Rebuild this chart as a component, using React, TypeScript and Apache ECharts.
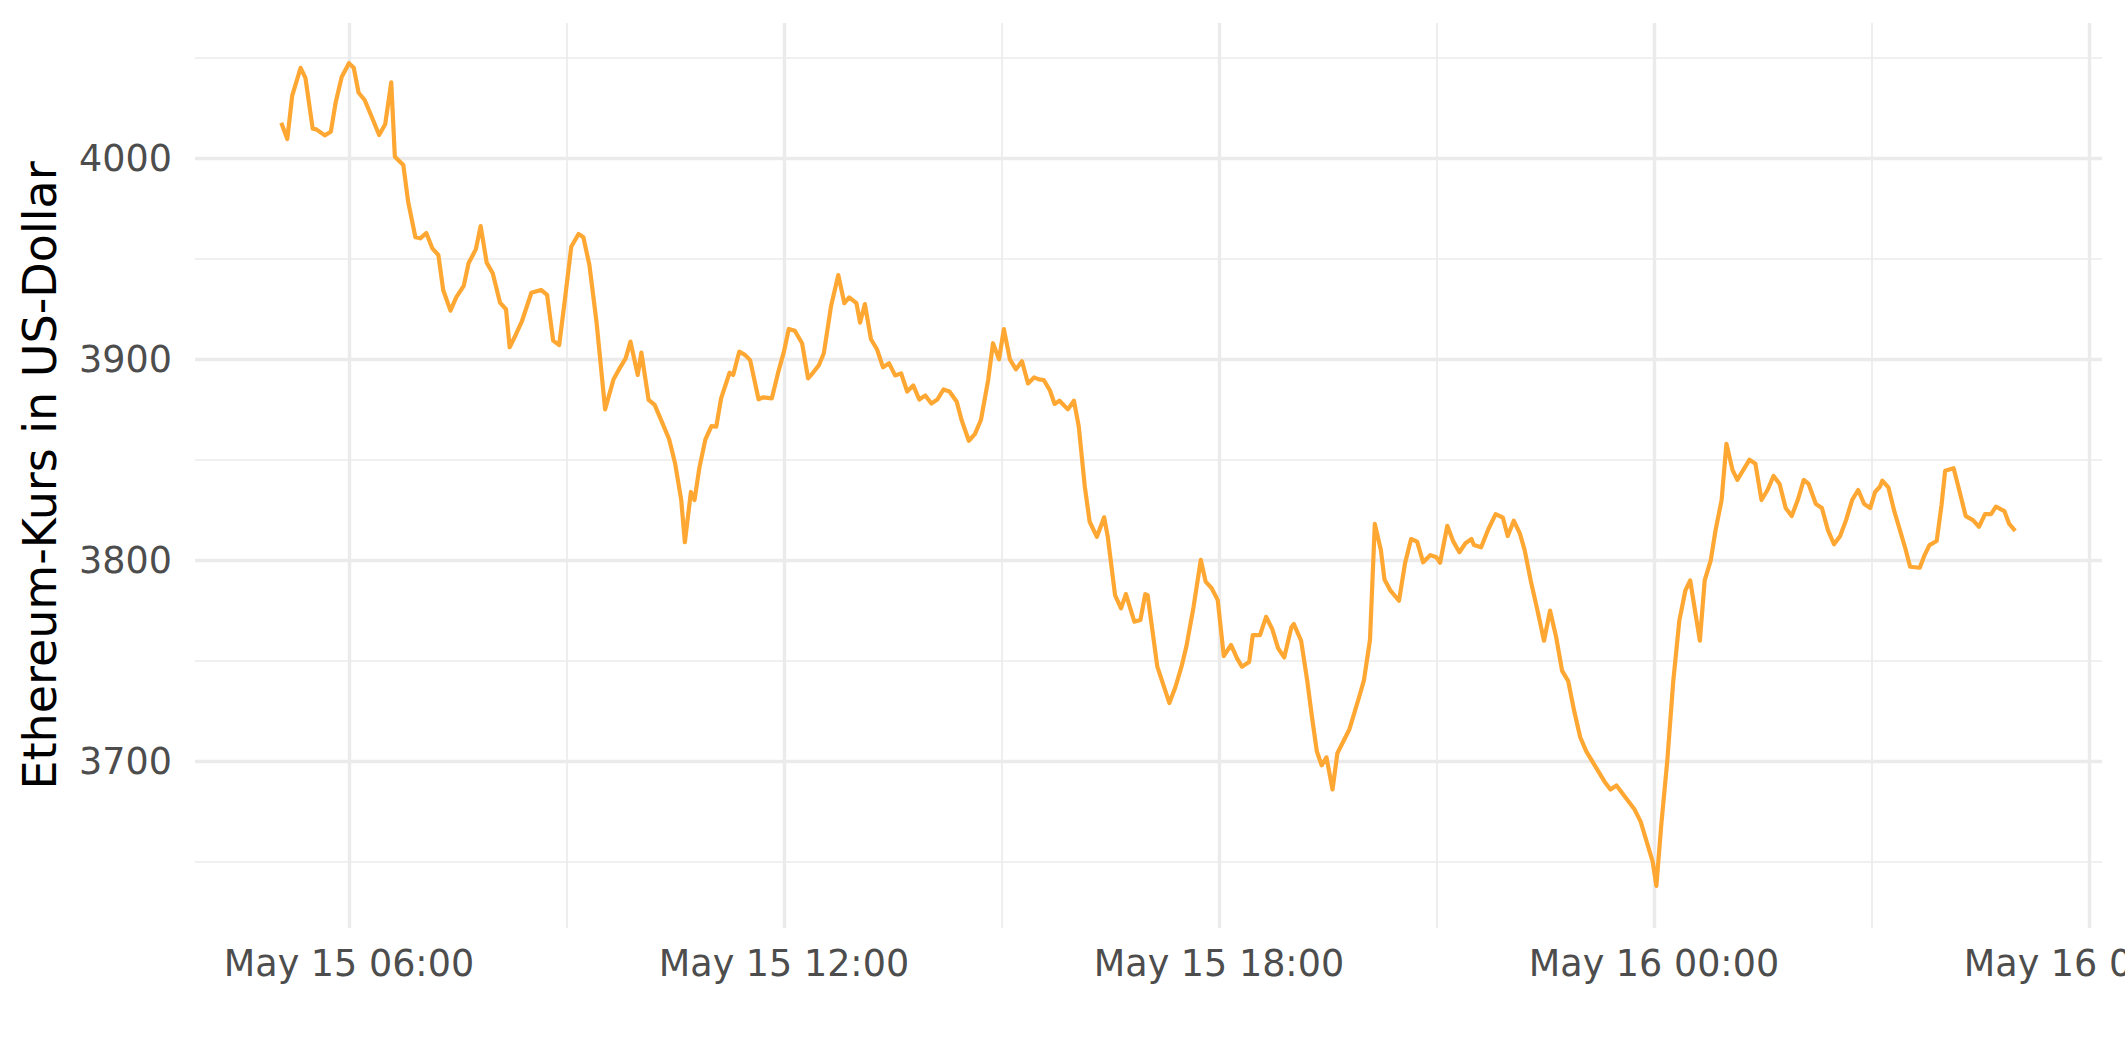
import React, { useEffect, useRef } from "react";
import * as echarts from "echarts";

// Timestamps (month-day hh:mm) and Ethereum prices in US-Dollar
const times: string[] = [
  "05-15 05:04","05-15 05:09","05-15 05:13","05-15 05:20","05-15 05:24","05-15 05:30","05-15 05:33","05-15 05:40","05-15 05:45","05-15 05:49",
  "05-15 05:54","05-15 06:00","05-15 06:04","05-15 06:08","05-15 06:13","05-15 06:19","05-15 06:25","05-15 06:30","05-15 06:35","05-15 06:38",
  "05-15 06:45","05-15 06:49","05-15 06:55","05-15 06:59","05-15 07:04","05-15 07:09","05-15 07:14","05-15 07:18","05-15 07:24","05-15 07:29",
  "05-15 07:35","05-15 07:39","05-15 07:45","05-15 07:49","05-15 07:54","05-15 07:59","05-15 08:05","05-15 08:10","05-15 08:13","05-15 08:18",
  "05-15 08:23","05-15 08:31","05-15 08:39","05-15 08:44","05-15 08:49","05-15 08:54","05-15 08:59","05-15 09:04","05-15 09:10","05-15 09:14",
  "05-15 09:19","05-15 09:25","05-15 09:32","05-15 09:39","05-15 09:44","05-15 09:49","05-15 09:53","05-15 09:59","05-15 10:02","05-15 10:08",
  "05-15 10:13","05-15 10:19","05-15 10:25","05-15 10:30","05-15 10:35","05-15 10:38","05-15 10:43","05-15 10:46","05-15 10:50","05-15 10:55",
  "05-15 11:00","05-15 11:04","05-15 11:08","05-15 11:15","05-15 11:18","05-15 11:23","05-15 11:28","05-15 11:32","05-15 11:39","05-15 11:43",
  "05-15 11:50","05-15 11:55","05-15 12:00","05-15 12:04","05-15 12:09","05-15 12:15","05-15 12:20","05-15 12:24","05-15 12:29","05-15 12:33",
  "05-15 12:39","05-15 12:45","05-15 12:50","05-15 12:54","05-15 13:00","05-15 13:03","05-15 13:07","05-15 13:12","05-15 13:17","05-15 13:22",
  "05-15 13:27","05-15 13:32","05-15 13:37","05-15 13:42","05-15 13:47","05-15 13:52","05-15 13:57","05-15 14:02","05-15 14:07","05-15 14:12",
  "05-15 14:17","05-15 14:23","05-15 14:27","05-15 14:33","05-15 14:38","05-15 14:43","05-15 14:49","05-15 14:53","05-15 14:58","05-15 15:02",
  "05-15 15:07","05-15 15:12","05-15 15:17","05-15 15:22","05-15 15:27","05-15 15:31","05-15 15:35","05-15 15:40","05-15 15:44","05-15 15:48",
  "05-15 15:55","05-15 16:00","05-15 16:04","05-15 16:09","05-15 16:13","05-15 16:19","05-15 16:25","05-15 16:28","05-15 16:34","05-15 16:39",
  "05-15 16:43","05-15 16:50","05-15 16:55","05-15 16:59","05-15 17:01","05-15 17:09","05-15 17:14","05-15 17:19","05-15 17:24","05-15 17:29",
  "05-15 17:33","05-15 17:39","05-15 17:45","05-15 17:49","05-15 17:54","05-15 17:59","05-15 18:04","05-15 18:10","05-15 18:15","05-15 18:19",
  "05-15 18:25","05-15 18:28","05-15 18:34","05-15 18:39","05-15 18:44","05-15 18:49","05-15 18:54","05-15 19:00","05-15 19:02","05-15 19:08",
  "05-15 19:13","05-15 19:17","05-15 19:21","05-15 19:25","05-15 19:29","05-15 19:34","05-15 19:38","05-15 19:43","05-15 19:48","05-15 19:53",
  "05-15 19:57","05-15 20:00","05-15 20:05","05-15 20:09","05-15 20:14","05-15 20:17","05-15 20:22","05-15 20:29","05-15 20:34","05-15 20:39",
  "05-15 20:44","05-15 20:49","05-15 20:55","05-15 21:00","05-15 21:03","05-15 21:09","05-15 21:14","05-15 21:19","05-15 21:24","05-15 21:29",
  "05-15 21:31","05-15 21:37","05-15 21:43","05-15 21:49","05-15 21:55","05-15 21:59","05-15 22:04","05-15 22:09","05-15 22:13","05-15 22:18",
  "05-15 22:24","05-15 22:29","05-15 22:34","05-15 22:39","05-15 22:44","05-15 22:49","05-15 22:54","05-15 22:59","05-15 23:04","05-15 23:09",
  "05-15 23:14","05-15 23:19","05-15 23:24","05-15 23:29","05-15 23:34","05-15 23:39","05-15 23:44","05-15 23:49","05-15 23:54","05-15 23:59",
  "05-16 00:02","05-16 00:06","05-16 00:11","05-16 00:16","05-16 00:21","05-16 00:26","05-16 00:30","05-16 00:34","05-16 00:38","05-16 00:42",
  "05-16 00:47","05-16 00:51","05-16 00:56","05-16 01:00","05-16 01:05","05-16 01:09","05-16 01:14","05-16 01:19","05-16 01:24","05-16 01:29",
  "05-16 01:34","05-16 01:39","05-16 01:44","05-16 01:49","05-16 01:54","05-16 01:59","05-16 02:04","05-16 02:08","05-16 02:14","05-16 02:19",
  "05-16 02:24","05-16 02:29","05-16 02:34","05-16 02:39","05-16 02:44","05-16 02:49","05-16 02:54","05-16 02:59","05-16 03:03","05-16 03:07",
  "05-16 03:09","05-16 03:14","05-16 03:19","05-16 03:24","05-16 03:28","05-16 03:32","05-16 03:40","05-16 03:44","05-16 03:48","05-16 03:54",
  "05-16 03:58","05-16 04:01","05-16 04:08","05-16 04:13","05-16 04:18","05-16 04:24","05-16 04:29","05-16 04:34","05-16 04:39","05-16 04:43",
  "05-16 04:50","05-16 04:54","05-16 04:59"
];

const prices: number[] = [
  4017.7,4009.6,4031.0,4045.0,4040.0,4014.7,4014.4,4011.4,4013.2,4027.7,
  4040.4,4047.3,4045.0,4032.6,4029.0,4020.4,4011.6,4016.9,4037.8,4000.8,
  3996.7,3978.4,3960.7,3960.2,3962.8,3955.2,3951.9,3934.5,3924.2,3931.1,
  3936.5,3947.8,3954.7,3966.3,3948.1,3942.8,3928.2,3924.9,3906.0,3912.1,
  3918.7,3933.1,3934.5,3932.0,3909.3,3907.1,3931.1,3956.0,3962.3,3960.7,
  3946.9,3917.9,3875.1,3890.1,3895.5,3900.5,3908.8,3892.2,3903.3,3879.8,
  3877.3,3868.9,3860.2,3848.0,3830.0,3809.0,3834.0,3830.0,3846.0,3860.2,
  3866.8,3866.5,3880.6,3893.3,3892.2,3903.8,3902.1,3899.6,3880.1,3881.1,
  3880.6,3893.0,3903.8,3915.1,3914.2,3908.0,3890.5,3893.3,3897.2,3903.0,
  3926.5,3941.9,3927.9,3930.8,3927.9,3918.2,3927.5,3910.0,3905.0,3896.0,
  3898.0,3892.0,3893.0,3884.0,3887.0,3880.0,3882.0,3878.0,3880.0,3885.0,
  3884.0,3878.9,3869.8,3859.5,3862.8,3869.8,3889.7,3908.0,3900.0,3915.0,
  3900.0,3895.0,3899.0,3888.0,3891.0,3890.0,3889.7,3884.7,3877.8,3879.4,
  3875.1,3879.4,3866.5,3836.6,3819.2,3811.7,3821.4,3811.7,3782.7,3776.1,
  3783.2,3769.5,3770.3,3783.2,3782.7,3747.1,3738.0,3729.0,3737.0,3747.1,
  3757.0,3776.9,3800.2,3789.4,3786.1,3780.2,3752.4,3757.9,3751.2,3747.1,
  3749.4,3762.8,3762.8,3771.9,3766.0,3756.2,3751.7,3766.8,3768.3,3760.0,
  3740.4,3722.0,3705.0,3698.0,3702.0,3686.0,3704.0,3710.0,3716.0,3726.0,
  3734.0,3740.4,3760.4,3818.1,3805.1,3790.5,3784.9,3779.9,3798.5,3810.6,
  3809.3,3799.0,3802.6,3801.5,3798.8,3817.2,3809.3,3804.0,3808.5,3810.6,
  3807.6,3806.5,3815.6,3823.0,3821.2,3812.1,3819.7,3813.4,3805.1,3790.0,
  3774.0,3760.0,3775.0,3762.0,3745.0,3740.0,3725.0,3712.0,3705.0,3700.0,
  3695.0,3690.0,3686.0,3688.0,3684.0,3680.0,3676.0,3670.0,3660.0,3650.0,
  3638.0,3668.0,3700.0,3740.0,3770.0,3785.0,3790.0,3775.0,3760.0,3790.0,
  3800.0,3815.0,3830.0,3858.0,3845.0,3840.0,3845.0,3850.0,3848.0,3830.0,
  3835.0,3842.0,3838.0,3826.0,3822.0,3830.0,3840.0,3838.0,3828.0,3826.0,
  3815.0,3808.0,3812.0,3820.0,3830.0,3835.0,3828.0,3826.0,3834.0,3836.6,
  3839.6,3836.3,3824.2,3814.2,3806.0,3796.8,3796.3,3802.6,3807.6,3809.6,
  3827.5,3844.6,3845.8,3834.1,3822.0,3820.0,3816.7,3823.0,3823.0,3826.7,
  3824.5,3818.1,3814.7
];

// axis ranges (May 15 03:52:36 .. May 16 06:10:48) and price range
const X_MIN_MINUTES = 3 * 60 + 52.6;
const X_MAX_MINUTES = 30 * 60 + 10.8;
const Y_MIN = 3617.1;
const Y_MAX = 4067.3;
const MONTH = "May";
const FIRST_DAY = 15;

const SIX_H = 360; // minutes
const THREE_H = 180;

function toMinutes(s: string): number {
  const [md, hm] = s.split(" ");
  const day = parseInt(md.split("-")[1], 10);
  const [h, m] = hm.split(":").map((v) => parseInt(v, 10));
  return (day - FIRST_DAY) * 1440 + h * 60 + m;
}

function fmt(unitsOf6h: number): string {
  const total = Math.round(unitsOf6h * SIX_H);
  const day = FIRST_DAY + Math.floor(total / 1440);
  const rem = ((total % 1440) + 1440) % 1440;
  const hh = String(Math.floor(rem / 60)).padStart(2, "0");
  const mm = String(rem % 60).padStart(2, "0");
  return `${MONTH} ${day} ${hh}:${mm}`;
}

const FONT = "DejaVu Sans";
const GRID = "#EBEBEB";

export default function App() {
  const ref = useRef<HTMLDivElement>(null);

  useEffect(() => {
    if (!ref.current) return;
    const chart = echarts.init(ref.current, undefined, { renderer: "svg" });
    const data = times.map((t, i) => [toMinutes(t) / SIX_H, prices[i]]);

    chart.setOption({
      animation: false,
      backgroundColor: "#ffffff",
      grid: {
        left: 195,
        right: 23,
        top: 23,
        bottom: 134,
        containLabel: false,
        outerBoundsMode: "none",
      },
      xAxis: [
        {
          type: "value",
          min: X_MIN_MINUTES / SIX_H,
          max: X_MAX_MINUTES / SIX_H,
          splitNumber: 4,
          axisLine: { show: false },
          axisTick: { show: false },
          axisLabel: {
            show: true,
            margin: 17,
            color: "#4D4D4D",
            fontSize: 36.5,
            fontFamily: FONT,
            showMinLabel: false,
            showMaxLabel: false,
            formatter: (v: number) => fmt(v),
          },
          splitLine: {
            show: true,
            showMinLine: false,
            showMaxLine: false,
            lineStyle: { color: GRID, width: 3.4 },
          },
        },
        {
          type: "value",
          min: X_MIN_MINUTES / THREE_H,
          max: X_MAX_MINUTES / THREE_H,
          splitNumber: 8,
          position: "bottom",
          axisLine: { show: false },
          axisTick: { show: false },
          axisLabel: { show: false },
          splitLine: {
            show: true,
            showMinLine: false,
            showMaxLine: false,
            lineStyle: { color: GRID, width: 1.7 },
          },
        },
      ],
      yAxis: [
        {
          type: "value",
          min: Y_MIN,
          max: Y_MAX,
          splitNumber: 5,
          name: "Ethereum-Kurs in US-Dollar",
          nameLocation: "middle",
          nameGap: 132,
          nameTextStyle: { color: "#000000", fontSize: 46, fontFamily: FONT },
          axisLine: { show: false },
          axisTick: { show: false },
          axisLabel: {
            margin: 23,
            color: "#4D4D4D",
            fontSize: 36.5,
            fontFamily: FONT,
            showMinLabel: false,
            showMaxLabel: false,
            formatter: (v: number) => String(Math.round(v)),
          },
          splitLine: {
            show: true,
            showMinLine: false,
            showMaxLine: false,
            lineStyle: { color: GRID, width: 3.4 },
          },
        },
        {
          type: "value",
          min: Y_MIN,
          max: Y_MAX,
          splitNumber: 9,
          position: "left",
          axisLine: { show: false },
          axisTick: { show: false },
          axisLabel: { show: false },
          splitLine: {
            show: true,
            showMinLine: false,
            showMaxLine: false,
            lineStyle: { color: GRID, width: 1.7 },
          },
        },
      ],
      series: [
        {
          type: "line",
          xAxisIndex: 0,
          yAxisIndex: 0,
          data,
          showSymbol: false,
          symbol: "none",
          silent: true,
          lineStyle: { color: "#FFA733", width: 4.2, join: "round", cap: "butt" },
        },
      ],
    });

    return () => chart.dispose();
  }, []);

  return (
    <div
      ref={ref}
      style={{ position: "fixed", left: 0, top: 0, width: 2125, height: 1062, background: "#fff" }}
    />
  );
}
